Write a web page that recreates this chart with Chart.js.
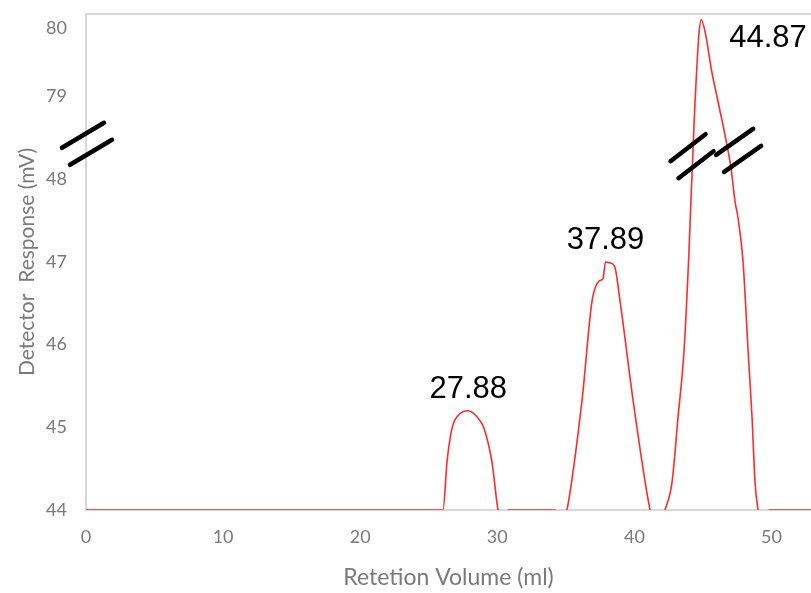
<!DOCTYPE html>
<html>
<head>
<meta charset="utf-8">
<script src="https://cdn.jsdelivr.net/npm/chart.js@4.4.0/dist/chart.umd.min.js"></script>
<style>
  html, body { margin: 0; padding: 0; background: #ffffff; overflow: hidden; }
  #wrap { width: 811px; height: 593px; }
</style>
</head>
<body>
<div id="wrap"><canvas id="chart" width="811" height="593"></canvas></div>
<script>
// Chromatogram trace: retention volume (ml) and detector response (mV)
const volume = [
  0, 26.04, 26.33, 26.70, 27.13, 27.88, 28.74, 29.03, 29.61, 30.05, 30.40, 30.78,
  34.21, 34.65, 35.08, 36.18, 36.91, 37.42, 37.71, 37.89, 38.20, 38.55, 38.95, 39.90, 41.14, 41.65, 42.23,
  42.74, 43.18, 43.62, 43.98, 44.12, 44.22, 44.32, 44.42, 44.55, 44.70, 44.87,
  45.20, 45.60, 46.10, 46.60, 47.05, 47.34, 47.56, 47.92, 48.29, 48.58, 48.80, 49.02, 49.40, 49.82, 53.00
];
const response = [
  44, 44, 44.58, 44.99, 45.14, 45.20, 45.08, 44.99, 44.58, 44, 43.8, 44,
  44, 43.8, 44, 45.33, 46.53, 46.77, 46.80, 47.00, 46.99, 46.95, 46.53, 45.33, 44, 43.7, 44,
  44.33, 45.12, 45.93, 47.13, 47.73, 52.0, 64.8, 77.1, 79.41, 79.90, 80.12,
  79.90, 79.41, 77.1, 64.8, 52.0, 47.73, 47.53, 47.01, 45.93, 45.12, 44.33, 44, 43.8, 44, 44
];

// Retention volumes of the three labelled peaks
const peakVolumes = [27.88, 37.89, 44.87];

// Axis ticks (y is a broken axis: 44–48 then 79–80)
const xTickValues = [0, 10, 20, 30, 40, 50];
const yTickValues = [44, 45, 46, 47, 48, 79, 80];

const BREAK_LOW = 48, BREAK_HIGH = 79;
// Map a response in mV onto the broken axis: linear to 48, the 48–79 gap squeezed
// into one unit, and 79 upward at a slightly tighter step.
function toAxis(v) {
  if (v <= BREAK_LOW) return v;
  if (v < BREAK_HIGH) return BREAK_LOW + (v - BREAK_LOW) / (BREAK_HIGH - BREAK_LOW);
  return BREAK_LOW + 1 + (v - BREAK_HIGH) * 0.83;
}

const points = volume.map((x, i) => ({ x: x, y: toAxis(response[i]) }));

const tickColor = '#7a7a7a';
const frameColor = '#d9d9d9';
const family = 'Lato, "Open Sans", sans-serif';
const tickFont = { family: family, size: 18 };

function drawBreakPair(ctx, cx, cy, hx, hy) {
  // two parallel slashes marking an axis break
  ctx.save();
  ctx.strokeStyle = '#000000';
  ctx.lineWidth = 4.5;
  ctx.lineCap = 'round';
  [[-4, -8.5], [4, 8.5]].forEach(([ox, oy]) => {
    ctx.beginPath();
    ctx.moveTo(cx + ox - hx, cy + oy - hy);
    ctx.lineTo(cx + ox + hx, cy + oy + hy);
    ctx.stroke();
  });
  ctx.restore();
}

const annotations = {
  id: 'annotations',
  beforeDatasetsDraw(chart) {
    const { ctx, chartArea } = chart;
    ctx.save();
    ctx.strokeStyle = frameColor;
    ctx.lineWidth = 2;
    ctx.beginPath();
    ctx.moveTo(chartArea.left, chartArea.top);
    ctx.lineTo(chartArea.right, chartArea.top);
    ctx.stroke();
    ctx.restore();
  },
  afterDatasetsDraw(chart) {
    const { ctx, chartArea } = chart;
    const xs = chart.scales.x, ys = chart.scales.y;

    // peak labels
    ctx.save();
    ctx.fillStyle = '#000000';
    ctx.font = '31px "Liberation Sans", Arial, sans-serif';
    ctx.textBaseline = 'alphabetic';
    peakVolumes.forEach((pv) => {
      const idx = volume.indexOf(pv);
      const px = xs.getPixelForValue(pv);
      const py = ys.getPixelForValue(toAxis(response[idx]));
      const text = pv.toFixed(2);
      if (py - 40 < chartArea.top) {
        ctx.textAlign = 'left';
        ctx.fillText(text, px + 28, py + 27);
      } else {
        ctx.textAlign = 'center';
        ctx.fillText(text, px, py - 13);
      }
    });
    ctx.restore();

    // break marks on the value axis and across the tallest peak
    drawBreakPair(ctx, chartArea.left + 1, ys.getPixelForValue(48.43), 21, -12.5);
    drawBreakPair(ctx, xs.getPixelForValue(44.2), ys.getPixelForValue(48.28), 17.5, -13.5);
    drawBreakPair(ctx, xs.getPixelForValue(47.6), ys.getPixelForValue(48.35), 18.5, -13);
  }
};

new Chart(document.getElementById('chart'), {
  type: 'line',
  data: {
    datasets: [{
      data: points,
      borderColor: '#ff2b2b',
      borderWidth: 1.6,
      pointRadius: 0,
      fill: false,
      cubicInterpolationMode: 'monotone'
    }]
  },
  options: {
    responsive: false,
    animation: false,
    events: [],
    layout: { padding: { top: 14, right: 0, left: 0, bottom: 0 } },
    plugins: { legend: { display: false }, tooltip: { enabled: false } },
    scales: {
      x: {
        type: 'linear',
        min: 0,
        max: 52.88,
        afterBuildTicks: s => { s.ticks = xTickValues.map(v => ({ value: v })); },
        afterFit: s => { s.height = 83; s.paddingLeft = 0; s.paddingRight = 0; },
        grid: { display: false, drawTicks: false },
        border: { color: frameColor, width: 2 },
        ticks: { color: tickColor, font: tickFont, padding: 16, maxRotation: 0 },
        title: {
          display: true,
          text: 'Retetion Volume (ml)',
          color: tickColor,
          font: { family: family, size: 23 },
          padding: { top: 0, bottom: 2 }
        }
      },
      y: {
        type: 'linear',
        min: 44,
        max: 50,
        afterBuildTicks: s => { s.ticks = yTickValues.map(v => ({ value: toAxis(v) })); },
        afterFit: s => { s.width = 86; s.paddingTop = 0; s.paddingBottom = 0; },
        grid: { display: false, drawTicks: false },
        border: { color: frameColor, width: 2 },
        ticks: {
          color: tickColor,
          font: tickFont,
          padding: 19,
          callback: (val, i) => String(yTickValues[i])
        },
        title: {
          display: true,
          text: 'Detector  Response (mV)',
          color: tickColor,
          font: { family: family, size: 21 },
          padding: { top: 15, bottom: 0 }
        }
      }
    }
  },
  plugins: [annotations]
});
</script>
</body>
</html>
